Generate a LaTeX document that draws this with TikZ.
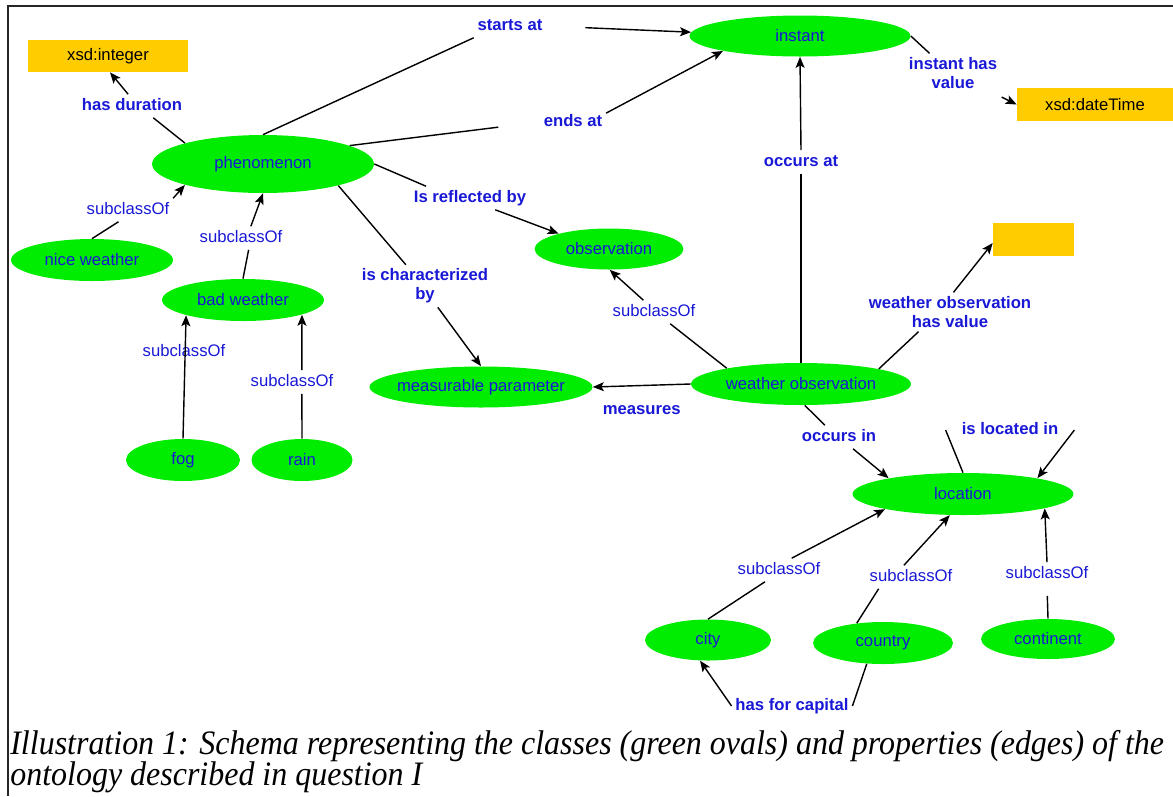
\documentclass[tikz,border=0pt]{standalone}
\usepackage{fontspec}
\setmainfont{Liberation Sans}
\newfontfamily\capfont[FakeStretch=0.933]{Liberation Serif}
\usetikzlibrary{arrows.meta,shapes.geometric}
\definecolor{ovgreen}{RGB}{0,236,0}
\definecolor{txtblue}{RGB}{24,24,214}
\definecolor{litorange}{RGB}{255,204,0}

\begin{document}
\begin{tikzpicture}[x=0.02cm, y=-0.02cm,
    font=\fontsize{9.5}{11}\selectfont,
    cls/.style={ellipse, fill=ovgreen, text=txtblue, inner sep=0pt},
    lit/.style={rectangle, fill=litorange, inner sep=0pt},
    lbl/.style={text=txtblue, inner sep=2pt},
    prop/.style={lbl, font=\fontsize{9.5}{11}\selectfont\bfseries, text height=7pt, text depth=2pt},
    prop2/.style={lbl, font=\fontsize{9.5}{11}\selectfont\bfseries, align=center},
    sub/.style={lbl, text height=7pt, text depth=2pt},
    ln/.style={line width=0.8pt},
    arr/.style={-{Stealth[length=2.2mm, width=1.8mm, inset=0.5mm]}},
    frame/.style={line width=0.8pt, black!85},
    capt/.style={font=\capfont\itshape\fontsize{19.5}{17.8}\selectfont, align=left, inner sep=0pt}
]
\useasboundingbox (0,0) rectangle (1173,796);
\draw[frame] (1173,6) -- (8,6) -- (8,796);

% classes
\node[cls, minimum width=4.42cm, minimum height=0.82cm] (inst) at (800,36) {instant};
\node[cls, minimum width=4.44cm, minimum height=1.16cm] (phen) at (263,164) {phenomenon};
\node[cls, minimum width=3.24cm, minimum height=0.84cm] (nice) at (92,260) {nice weather};
\node[cls, minimum width=3.24cm, minimum height=0.84cm] (bad) at (243,300) {bad weather};
\node[cls, minimum width=2.28cm, minimum height=0.84cm] (fog) at (183,460) {fog};
\node[cls, minimum width=2.02cm, minimum height=0.84cm] (rain) at (302,460) {rain};
\node[cls, minimum width=2.98cm, minimum height=0.82cm] (obs) at (609,249) {observation};
\node[cls, minimum width=4.46cm, minimum height=0.82cm, inner xsep=-6pt] (mp) at (481,387) {measurable parameter};
\node[cls, minimum width=4.40cm, minimum height=0.84cm] (wo) at (801,384) {weather observation};
\node[cls, minimum width=4.42cm, minimum height=0.84cm] (loc) at (963,494) {location};
\node[cls, minimum width=2.52cm, minimum height=0.82cm] (city) at (708,640) {city};
\node[cls, minimum width=2.80cm, minimum height=0.84cm] (ctry) at (883,643) {country};
\node[cls, minimum width=2.68cm, minimum height=0.80cm] (cont) at (1048,639) {continent};

% literals
\node[lit, minimum width=3.22cm, minimum height=0.64cm] (int) at (108,56) {xsd:integer};
\node[lit, minimum width=3.12cm, minimum height=0.66cm] (dt) at (1095,104.5) {xsd:dateTime};
\node[lit, minimum width=1.62cm, minimum height=0.66cm] (empty) at (1033.5,239.5) {};

% property labels
\node[prop] (hasdur) at (132,106) {has duration};
\node[prop] (starts) at (510,26) {starts at};
\node[prop] (ends) at (573,122) {ends at};
\node[prop2] (instval) at (953,73) {instant has\\value};
\node[prop] (occat) at (801,162) {occurs at};
\node[prop] (reflby) at (470,198) {Is reflected by};
\node[prop2] (charby) at (425,286) {is characterized\\by};
\node[prop2] (wohv) at (950,312) {weather observation\\has value};
\node[prop] (occin) at (839,437) {occurs in};
\node[prop, inner xsep=9pt] (locin) at (1010,430) {is located in};
\node[prop] (hfc) at (792,706) {has for capital};
\node[sub] (sc1) at (128,210) {subclassOf};
\node[sub] (sc2) at (241,238) {subclassOf};
\node[sub] (sc3) at (184,352) {subclassOf};
\node[sub] (sc4) at (292,382) {subclassOf};
\node[sub] (sc5) at (654,312) {subclassOf};
\node[sub] (sc6) at (779,570) {subclassOf};
\node[sub] (sc7) at (911,577) {subclassOf};
\node[sub] (sc8) at (1047,574) {subclassOf};

% edges
\draw[ln] (phen.165) -- (hasdur.-29);
\draw[ln, arr] (hasdur.108) -- (int.-83);
\draw[ln] (phen.north) -- (starts.south west);
\draw[ln, arr, shorten <=7.8mm] (starts.east) -- (inst.178);
\draw[ln, shorten >=8.4mm] (phen.12) -- (ends.west);
\draw[ln, arr] (ends.15) -- (inst.191);
\draw[ln] (inst.east) -- (instval.140);
\draw[ln, arr, shorten <=2mm] (instval) -- (dt.west);
\draw[ln] (wo.north) -- (occat.south);
\draw[ln, arr] (occat.north) -- (inst.south);
\draw[ln] (phen.east) -- (reflby.165);
\draw[ln, arr] (reflby.-25) -- (obs.163);
\draw[ln] (phen.-16) -- (charby.132);
\draw[ln, arr] (charby.-59) -- (mp.north);
\draw[ln] (nice.north) -- (sc1.231);
\draw[ln, arr] (sc1.north east) -- (phen.195);
\draw[ln] (bad.north) -- (sc2.-57);
\draw[ln, arr] (sc2.50) -- (phen.south);
\draw[ln, arr] (fog.north) -- (bad.195);
\draw[ln] (rain.north) -- (sc4.-50);
\draw[ln, arr] (sc4.50) -- (bad.-14);
\draw[ln] (wo.168) -- (sc5.-36);
\draw[ln, arr] (sc5.132) -- (obs.-88);
\draw[ln, arr] (wo.west) -- node[prop, below=2.5mm] (meas) {measures} (mp.east);
\draw[ln] (wo.11) -- (wohv.212);
\draw[ln, arr] (wohv.80) -- (empty.185);
\draw[ln] (wo.-80) -- (occin.140);
\draw[ln, arr] (occin.-40) -- (loc.168);
\draw[ln] (loc.north) -- (locin.west);
\draw[ln, arr] (locin.east) -- (loc.12);
\draw[ln] (city.north) -- (sc6.220);
\draw[ln, arr] (sc6.43) -- (loc.191);
\draw[ln] (ctry.143) -- (sc7.200);
\draw[ln, arr] (sc7.121) -- (loc.238);
\draw[ln, shorten >=2mm] (cont.north) -- (sc8.south);
\draw[ln, arr] (sc8.north) -- (loc.-10);
\draw[ln] (ctry.232) -- (hfc.east);
\draw[ln, arr] (hfc.west) -- (city.249);

% caption
\node[capt, anchor=north west] (cap) at (10,730) {Illustration 1: Schema representing the classes (green ovals) and properties (edges) of the\\ontology described in question I};
\end{tikzpicture}
\end{document}
